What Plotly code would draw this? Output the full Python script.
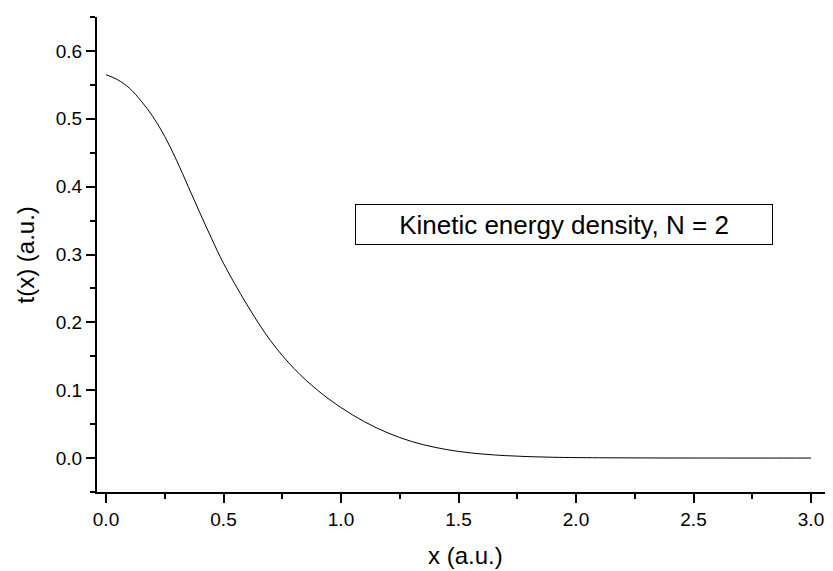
import plotly.graph_objects as go

# Values
x_vals = [0.0, 0.05, 0.1, 0.15, 0.2, 0.25, 0.3, 0.35, 0.4, 0.45, 0.5, 0.6, 0.7, 0.8, 0.9,
          1.0, 1.1, 1.2, 1.3, 1.4, 1.5, 1.6, 1.7, 1.8, 1.9, 2.0, 2.2, 2.4, 2.6, 2.8, 3.0]
t_vals = [0.565, 0.5575, 0.545, 0.526, 0.503, 0.474, 0.439, 0.400, 0.361, 0.323, 0.287,
          0.226, 0.173, 0.132, 0.100, 0.0745, 0.0535, 0.037, 0.0245, 0.0158, 0.0098, 0.0060,
          0.0036, 0.0021, 0.0012, 0.0007, 0.0003, 0.0001, 0.00005, 0.00002, 0.00001]

x_ticks = [0.0, 0.5, 1.0, 1.5, 2.0, 2.5, 3.0]
x_tick_text = ["0.0", "0.5", "1.0", "1.5", "2.0", "2.5", "3.0"]
y_ticks = [0.0, 0.1, 0.2, 0.3, 0.4, 0.5, 0.6]
y_tick_text = ["0.0", "0.1", "0.2", "0.3", "0.4", "0.5", "0.6"]

label_text = "Kinetic energy density, N = 2"
x_title = "x (a.u.)"
y_title = "t(x) (a.u.)"

FONT = "Liberation Sans, Arial, sans-serif"

fig = go.Figure()
fig.add_trace(go.Scatter(
    x=x_vals, y=t_vals, mode="lines",
    line=dict(color="black", width=1, shape="spline", smoothing=1.0),
    showlegend=False, hoverinfo="skip",
))

axis_common = dict(
    showline=True, linecolor="black", linewidth=2,
    ticks="outside", ticklen=9, tickwidth=2, tickcolor="black",
    showgrid=False, zeroline=False, mirror=False, automargin=False,
    tickfont=dict(family=FONT, size=19, color="black"),
)

fig.update_xaxes(
    range=[-0.0383, 3.0936], tickvals=x_ticks, ticktext=x_tick_text,
    minor=dict(dtick=0.25, tick0=0, ticks="outside", ticklen=5, tickwidth=2, tickcolor="black"),
    **axis_common,
)
fig.update_yaxes(
    range=[-0.05, 0.65], tickvals=y_ticks, ticktext=y_tick_text,
    minor=dict(dtick=0.05, tick0=0, ticks="outside", ticklen=5, tickwidth=2, tickcolor="black"),
    **axis_common,
)

# axis titles
fig.add_annotation(
    x=0.5, y=-0.133, xref="paper", yref="paper", xanchor="center", yanchor="middle",
    text=x_title, showarrow=False, font=dict(family=FONT, size=24, color="black"),
)
fig.add_annotation(
    x=-0.0965, y=0.5, xref="paper", yref="paper", xanchor="center", yanchor="middle",
    text=y_title, showarrow=False, textangle=-90, font=dict(family=FONT, size=24, color="black"),
)

fig.add_annotation(
    x=1.949, y=0.3446, xref="x", yref="y",
    text=label_text, showarrow=False,
    font=dict(family=FONT, size=26, color="black"),
    bordercolor="black", borderwidth=1, borderpad=1,
    width=414, height=37, bgcolor="white",
)

# the page body adds an 8px margin, so the figure is sized to fit the window
fig.update_layout(
    width=825, height=563,
    margin=dict(l=89, r=0, t=9, b=79),
    paper_bgcolor="white", plot_bgcolor="white",
)

fig.write_html("out.html")
